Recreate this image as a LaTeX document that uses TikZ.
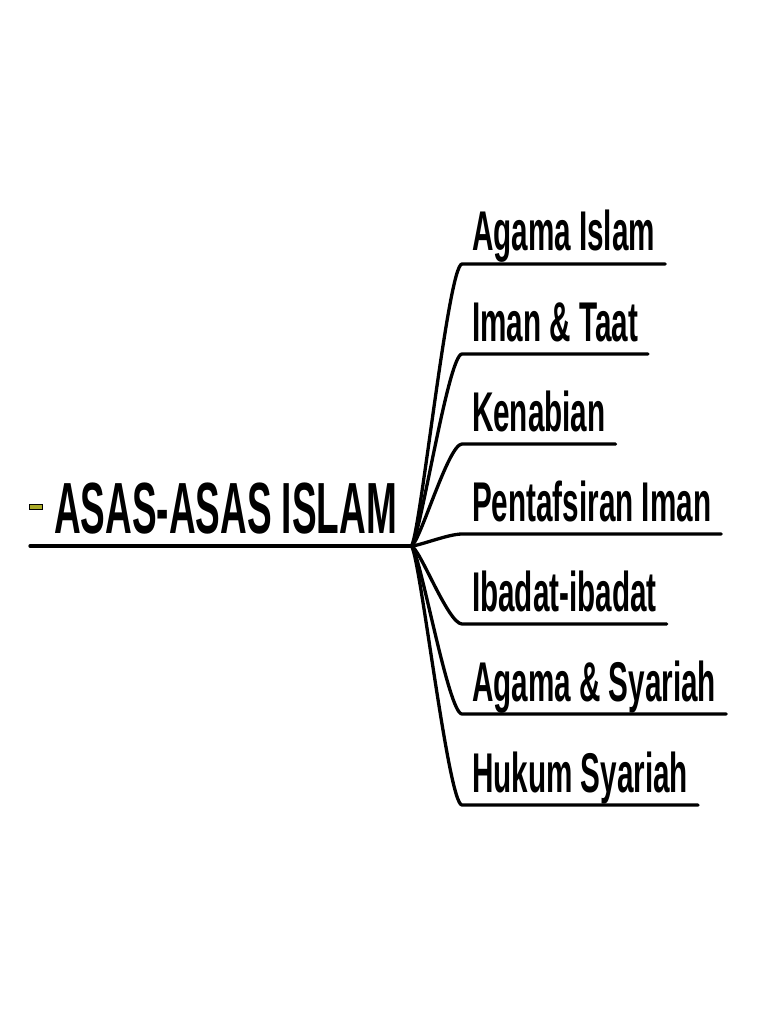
\documentclass[tikz,border=0pt]{standalone}
\usepackage{fontspec}
\setmainfont{Liberation Sans}
\newfontfamily\titlefont[FakeStretch=0.51]{Liberation Sans}
\newfontfamily\leaffont[FakeStretch=0.53]{Liberation Sans}
\definecolor{bulletOlive}{RGB}{170, 170, 40}
\usetikzlibrary{positioning}

\begin{document}
\begin{tikzpicture}[x=1pt, y=-1pt]
    \tikzset{
        title/.style={inner sep=0pt, outer sep=0pt, font=\titlefont\bfseries\fontsize{72.5}{75}\selectfont},
        leaf/.style={inner xsep=10pt, inner ysep=0pt, outer sep=0pt, text depth=0pt, font=\leaffont\bfseries\fontsize{56}{60}\selectfont},
        bullet/.style={rectangle, draw=black, fill=bulletOlive, line width=0.8pt, minimum width=13pt, minimum height=5pt, inner sep=0pt},
        branch/.style={draw=black, line width=3.3pt, line cap=round, line join=round}
    }
    \useasboundingbox (0,0) rectangle (768,1024);

    % root
    \node [bullet] (dash) at (36,506.5) {};
    \node [title, anchor=base west] (root) at (54,533) {ASAS-ASAS ISLAM};
    \coordinate (start) at (30,546);
    \coordinate (hub) at (411,546);
    \draw [branch] (start) -- (hub);

    % corners of the branches
    \coordinate (c1) at (462,264);
    \coordinate (c2) at (462,354);
    \coordinate (c3) at (462,444);
    \coordinate (c4) at (462,534);
    \coordinate (c5) at (462,624);
    \coordinate (c6) at (462,714);
    \coordinate (c7) at (462,805);

    \node [leaf, above right=13pt and 0pt of c1, anchor=south west] (agama) {Agama Islam};
    \node [leaf, above right=13pt and 0pt of c2, anchor=south west] (iman) {Iman \& Taat};
    \node [leaf, above right=13pt and 0pt of c3, anchor=south west] (nabi) {Kenabian};
    \node [leaf, above right=13pt and 0pt of c4, anchor=south west] (tafsir) {Pentafsiran Iman};
    \node [leaf, above right=13pt and 0pt of c5, anchor=south west] (ibadat) {Ibadat-ibadat};
    \node [leaf, above right=13pt and 0pt of c6, anchor=south west] (syariah) {Agama \& Syariah};
    \node [leaf, above right=13pt and 0pt of c7, anchor=south west] (hukum) {Hukum Syariah};

    \draw [branch] (hub) .. controls +(8,0) and +(-14,0) .. (c1) -- (c1 -| agama.east);
    \draw [branch] (hub) .. controls +(8,0) and +(-14,0) .. (c2) -- (c2 -| iman.east);
    \draw [branch] (hub) .. controls +(8,0) and +(-14,0) .. (c3) -- (c3 -| nabi.east);
    \draw [branch] (hub) .. controls +(8,0) and +(-14,0) .. (c4) -- (c4 -| tafsir.east);
    \draw [branch] (hub) .. controls +(8,0) and +(-14,0) .. (c5) -- (c5 -| ibadat.east);
    \draw [branch] (hub) .. controls +(8,0) and +(-14,0) .. (c6) -- (c6 -| syariah.east);
    \draw [branch] (hub) .. controls +(8,0) and +(-14,0) .. (c7) -- (c7 -| hukum.east);
\end{tikzpicture}
\end{document}
